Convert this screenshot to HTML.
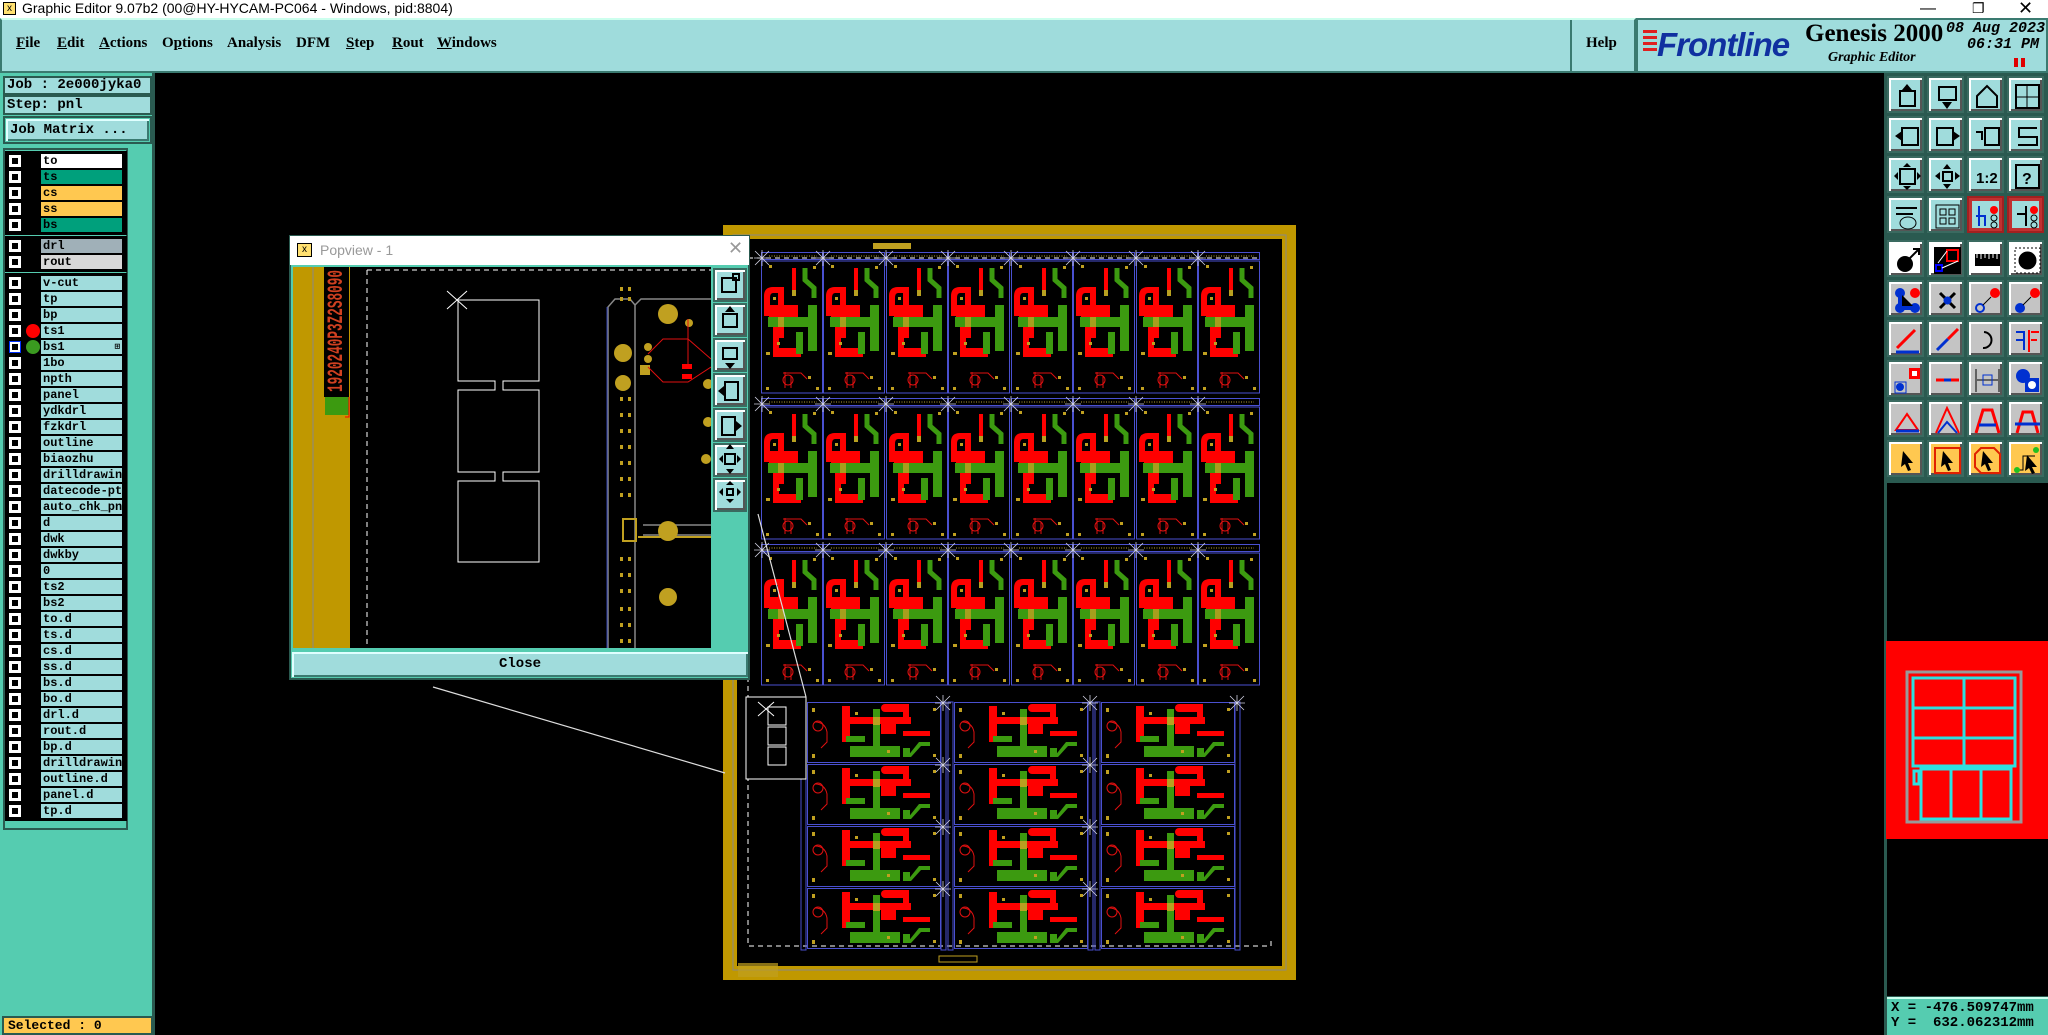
<!DOCTYPE html>
<html><head><meta charset="utf-8"><style>
*{margin:0;padding:0;box-sizing:border-box}
body{width:2048px;height:1035px;overflow:hidden;background:#000;position:relative;font-family:"Liberation Mono",monospace}
.a{position:absolute}
.menu span{position:absolute;top:15px;font:bold 15px "Liberation Serif",serif;color:#000}
.menu u{text-decoration:underline}
.lrow{position:absolute;left:5px;width:122px;height:16px;background:#000}
.lrow .cb{position:absolute;left:4px;top:2px;width:12px;height:12px;background:#fff;border:1px solid #fff}
.lrow .cb:after{content:"";position:absolute;left:2px;top:2px;width:6px;height:6px;background:#000}
.lrow .nm{position:absolute;left:36px;top:1px;width:81px;height:14px;background:#a0dcdc;font:bold 12px "Liberation Mono",monospace;line-height:14px;padding-left:2px;white-space:nowrap;overflow:hidden;color:#000}
.ic{position:absolute;width:37px;height:37px;border:2px solid #3a6a60;box-shadow:inset 2px 2px 0 #fff,inset -2px -2px 0 #555}
.tb{background:#a0dcdc}.gr{background:#c4c4c4}.or{background:#ffc850}
.ic svg{position:absolute;left:4px;top:4px}
</style></head><body>
<!-- title bar -->
<div class="a" style="left:0;top:0;width:2048px;height:18px;background:#fff;font:14px 'Liberation Sans',sans-serif;line-height:17px;padding-left:22px;color:#000">Graphic Editor 9.07b2 (00@HY-HYCAM-PC064 - Windows, pid:8804)</div>
<div class="a" style="left:3px;top:2px;width:13px;height:13px;border:1px solid #000;background:#ffe070;font:10px sans-serif;line-height:11px;text-align:center">x</div>
<div class="a" style="left:1920px;top:0;font:16px 'Liberation Sans',sans-serif;color:#000">—</div>
<div class="a" style="left:1972px;top:0;font:14px 'Liberation Sans',sans-serif;color:#000">❐</div>
<div class="a" style="left:2018px;top:-2px;font:18px 'Liberation Sans',sans-serif;color:#000">✕</div>
<!-- menu bar -->
<div class="a menu" style="left:0;top:18px;width:1636px;height:55px;background:#9fdcdc;border:2px solid #3a7a70;border-top-color:#cfe;">
<span style="left:14px"><u>F</u>ile</span><span style="left:55px"><u>E</u>dit</span><span style="left:97px"><u>A</u>ctions</span><span style="left:160px">O<u>p</u>tions</span><span style="left:225px">Analysis</span><span style="left:294px">DFM</span><span style="left:344px"><u>S</u>tep</span><span style="left:390px"><u>R</u>out</span><span style="left:435px"><u>W</u>indows</span><span style="left:1584px">Help</span></div>
<div class="a" style="left:1570px;top:20px;width:2px;height:51px;background:#3a7a70"></div>
<div class="a" style="left:1636px;top:18px;width:412px;height:55px;background:#9fdcdc;border:2px solid #3a7a70"></div>
<div class="a" style="left:1643px;top:30px;width:14px;height:3px;background:#e02020;box-shadow:0 6px 0 #e02020,0 12px 0 #e02020,0 18px 0 #e02020"></div>
<div class="a" style="left:1657px;top:26px;font:italic bold 33px 'Liberation Sans',sans-serif;color:#1030a0;letter-spacing:-1px">Frontline</div>
<div class="a" style="left:1805px;top:20px;font:bold 25px 'Liberation Serif',serif;color:#000">Genesis 2000</div>
<div class="a" style="left:1828px;top:50px;font:italic bold 14px 'Liberation Serif',serif;color:#000">Graphic Editor</div>
<div class="a" style="left:1946px;top:20px;font:italic bold 15px 'Liberation Mono',monospace;color:#000;white-space:pre">08 Aug 2023</div>
<div class="a" style="left:1958px;top:36px;font:italic bold 15px 'Liberation Mono',monospace;color:#000;white-space:pre"> 06:31 PM</div>
<div class="a" style="left:2014px;top:58px;width:4px;height:9px;background:#e00000;box-shadow:7px 0 0 #e00000"></div>
<!-- left panel -->
<div class="a" style="left:0;top:73px;width:155px;height:962px;background:#55ccb0;border-right:3px solid #2a5a50"></div>
<div class="a" style="left:3px;top:76px;width:149px;height:19px;background:#a0dcdc;border:2px solid #2a5a50;font:bold 14px 'Liberation Mono',monospace;line-height:15px;padding-left:2px">Job : 2e000jyka0</div>
<div class="a" style="left:3px;top:95px;width:149px;height:20px;background:#a0dcdc;border:2px solid #2a5a50;font:bold 14px 'Liberation Mono',monospace;line-height:16px;padding-left:2px">Step: pnl</div>
<div class="a" style="left:3px;top:116px;width:149px;height:28px;background:#55ccb0;border:2px solid #2a5a50"></div>
<div class="a" style="left:6px;top:119px;width:143px;height:22px;background:#a0dcdc;box-shadow:inset 2px 2px 0 #e0ffff,inset -2px -2px 0 #3a7a70;font:bold 14px 'Liberation Mono',monospace;line-height:22px;padding-left:4px">Job Matrix ...</div>
<div class="a" style="left:3px;top:148px;width:125px;height:682px;border:2px solid #2a5a50;background:#55ccb0"></div>
<div class="a" style="left:5px;top:151px;width:122px;height:84px;background:#000"></div>
<div class="a" style="left:5px;top:236px;width:122px;height:36px;background:#000"></div>
<div class="a" style="left:5px;top:273px;width:122px;height:548px;background:#000"></div>
<div class="lrow" style="top:153px"><div class="cb"></div><div class="nm" style="background:#fff">to</div></div>
<div class="lrow" style="top:169px"><div class="cb"></div><div class="nm" style="background:#00a07c">ts</div></div>
<div class="lrow" style="top:185px"><div class="cb"></div><div class="nm" style="background:#ffc850">cs</div></div>
<div class="lrow" style="top:201px"><div class="cb"></div><div class="nm" style="background:#ffc850">ss</div></div>
<div class="lrow" style="top:217px"><div class="cb"></div><div class="nm" style="background:#00a07c">bs</div></div>
<div class="lrow" style="top:238px"><div class="cb"></div><div class="nm" style="background:#a0b0b8">drl</div></div>
<div class="lrow" style="top:254px"><div class="cb"></div><div class="nm" style="background:#d8d8d8">rout</div></div>
<div class="lrow" style="top:275px"><div class="cb"></div><div class="nm">v-cut</div></div>
<div class="lrow" style="top:291px"><div class="cb"></div><div class="nm">tp</div></div>
<div class="lrow" style="top:307px"><div class="cb"></div><div class="nm">bp</div></div>
<div class="lrow" style="top:323px"><div class="cb"></div><div class="a" style="left:21px;top:1px;width:14px;height:14px;border-radius:50%;background:#f00"></div><div class="nm">ts1</div></div>
<div class="lrow" style="top:339px"><div class="cb" style="border-color:#0030ff"></div><div class="a" style="left:21px;top:1px;width:14px;height:14px;border-radius:50%;background:#3a9a20"></div><div class="nm">bs1<span style="float:right;font-size:9px;padding-right:2px">⊞</span></div></div>
<div class="lrow" style="top:355px"><div class="cb"></div><div class="nm">1bo</div></div>
<div class="lrow" style="top:371px"><div class="cb"></div><div class="nm">npth</div></div>
<div class="lrow" style="top:387px"><div class="cb"></div><div class="nm">panel</div></div>
<div class="lrow" style="top:403px"><div class="cb"></div><div class="nm">ydkdrl</div></div>
<div class="lrow" style="top:419px"><div class="cb"></div><div class="nm">fzkdrl</div></div>
<div class="lrow" style="top:435px"><div class="cb"></div><div class="nm">outline</div></div>
<div class="lrow" style="top:451px"><div class="cb"></div><div class="nm">biaozhu</div></div>
<div class="lrow" style="top:467px"><div class="cb"></div><div class="nm">drilldrawing</div></div>
<div class="lrow" style="top:483px"><div class="cb"></div><div class="nm">datecode-pt</div></div>
<div class="lrow" style="top:499px"><div class="cb"></div><div class="nm">auto_chk_pnl</div></div>
<div class="lrow" style="top:515px"><div class="cb"></div><div class="nm">d</div></div>
<div class="lrow" style="top:531px"><div class="cb"></div><div class="nm">dwk</div></div>
<div class="lrow" style="top:547px"><div class="cb"></div><div class="nm">dwkby</div></div>
<div class="lrow" style="top:563px"><div class="cb"></div><div class="nm">0</div></div>
<div class="lrow" style="top:579px"><div class="cb"></div><div class="nm">ts2</div></div>
<div class="lrow" style="top:595px"><div class="cb"></div><div class="nm">bs2</div></div>
<div class="lrow" style="top:611px"><div class="cb"></div><div class="nm">to.d</div></div>
<div class="lrow" style="top:627px"><div class="cb"></div><div class="nm">ts.d</div></div>
<div class="lrow" style="top:643px"><div class="cb"></div><div class="nm">cs.d</div></div>
<div class="lrow" style="top:659px"><div class="cb"></div><div class="nm">ss.d</div></div>
<div class="lrow" style="top:675px"><div class="cb"></div><div class="nm">bs.d</div></div>
<div class="lrow" style="top:691px"><div class="cb"></div><div class="nm">bo.d</div></div>
<div class="lrow" style="top:707px"><div class="cb"></div><div class="nm">drl.d</div></div>
<div class="lrow" style="top:723px"><div class="cb"></div><div class="nm">rout.d</div></div>
<div class="lrow" style="top:739px"><div class="cb"></div><div class="nm">bp.d</div></div>
<div class="lrow" style="top:755px"><div class="cb"></div><div class="nm">drilldrawing</div></div>
<div class="lrow" style="top:771px"><div class="cb"></div><div class="nm">outline.d</div></div>
<div class="lrow" style="top:787px"><div class="cb"></div><div class="nm">panel.d</div></div>
<div class="lrow" style="top:803px"><div class="cb"></div><div class="nm">tp.d</div></div>
<div class="a" style="left:2px;top:1016px;width:151px;height:19px;background:#ffc850;border:2px solid #2a5a50;font:bold 13px 'Liberation Mono',monospace;line-height:15px;padding-left:4px">Selected : 0</div>

<!-- right toolbar -->
<div class="a" style="left:1884px;top:73px;width:164px;height:962px;background:#2a5a50"></div>
<div class="a" style="left:1887px;top:483px;width:161px;height:513px;background:#000"></div>
<div class="a" style="left:1886px;top:641px;width:162px;height:198px;background:#f00"></div>
<svg class="a" style="left:1886px;top:641px" width="162" height="198">
<g fill="none" stroke="#999" stroke-width="3"><rect x="21" y="31" width="114" height="150"/></g>
<g fill="none" stroke="#2ee0e0" stroke-width="3"><rect x="27" y="37" width="102" height="88"/><line x1="78" y1="37" x2="78" y2="125"/><line x1="27" y1="67" x2="129" y2="67"/><line x1="27" y1="97" x2="129" y2="97"/><rect x="35" y="128" width="90" height="50"/><line x1="65" y1="128" x2="65" y2="178"/><line x1="95" y1="128" x2="95" y2="178"/><rect x="28" y="130" width="5" height="13"/></g></svg>
<div class="a" style="left:1887px;top:997px;width:161px;height:38px;background:#55ccb0;border-top:2px solid #cfe;font:bold 14px 'Liberation Mono',monospace;line-height:15px;padding:2px 0 0 4px;white-space:pre">X = -476.509747mm
Y =  632.062312mm</div>
<!-- icons -->
<div class="ic tb" style="left:1887px;top:76px"><svg width="29" height="29"><rect x="7" y="9" width="15" height="15" fill="none" stroke="#000" stroke-width="2"/><path d="M14 2 L9 8 H19Z" fill="#000"/></svg></div>
<div class="ic tb" style="left:1927px;top:76px"><svg width="29" height="29"><rect x="6" y="5" width="17" height="13" fill="none" stroke="#000" stroke-width="2"/><path d="M14 27 L9 20 H19Z" fill="#000"/></svg></div>
<div class="ic tb" style="left:1967px;top:76px"><svg width="29" height="29"><path d="M4 14 L14 4 L24 14 V25 H4Z" fill="none" stroke="#000" stroke-width="2"/></svg></div>
<div class="ic tb" style="left:2007px;top:76px"><svg width="29" height="29"><rect x="3" y="3" width="23" height="23" fill="none" stroke="#000" stroke-width="2"/><path d="M14 3V26M3 15H26" stroke="#000"/></svg></div>
<div class="ic tb" style="left:1887px;top:116px"><svg width="29" height="29"><rect x="9" y="6" width="16" height="17" fill="none" stroke="#000" stroke-width="2"/><path d="M2 14 L9 9 V19Z" fill="#000"/></svg></div>
<div class="ic tb" style="left:1927px;top:116px"><svg width="29" height="29"><rect x="4" y="6" width="16" height="17" fill="none" stroke="#000" stroke-width="2"/><path d="M27 14 L20 9 V19Z" fill="#000"/></svg></div>
<div class="ic tb" style="left:1967px;top:116px"><svg width="29" height="29"><rect x="12" y="6" width="14" height="17" fill="none" stroke="#000" stroke-width="2"/><path d="M3 10 H9 V18" fill="none" stroke="#000" stroke-width="2"/></svg></div>
<div class="ic tb" style="left:2007px;top:116px"><svg width="29" height="29"><path d="M24 6 H6 V15 H24 V23 H5" fill="none" stroke="#000" stroke-width="2"/></svg></div>
<div class="ic tb" style="left:1887px;top:156px"><svg width="29" height="29"><rect x="7" y="7" width="15" height="15" fill="none" stroke="#000" stroke-width="2"/><path d="M14 1 L10 5 H18Z M14 28 L10 24 H18Z M1 14 L5 10 V18Z M28 14 L24 10 V18Z" fill="#000"/></svg></div>
<div class="ic tb" style="left:1927px;top:156px"><svg width="29" height="29"><rect x="10" y="10" width="9" height="9" fill="none" stroke="#000" stroke-width="2"/><path d="M14 2 L10 7 H18Z M14 27 L10 22 H18Z M2 14 L7 10 V18Z M27 14 L22 10 V18Z" fill="#000"/></svg></div>
<div class="ic tb" style="left:1967px;top:156px"><svg width="29" height="29"><text x="3" y="21" font-family="Liberation Sans" font-weight="bold" font-size="15">1:2</text></svg></div>
<div class="ic tb" style="left:2007px;top:156px"><svg width="29" height="29"><rect x="3" y="3" width="23" height="23" fill="none" stroke="#000" stroke-width="2"/><text x="9" y="22" font-family="Liberation Sans" font-weight="bold" font-size="16">?</text></svg></div>
<div class="ic tb" style="left:1887px;top:196px"><svg width="29" height="29"><path d="M3 6H24M3 12H20" stroke="#000" stroke-width="2"/><ellipse cx="15" cy="21" rx="8" ry="6" fill="none" stroke="#000"/></svg></div>
<div class="ic tb" style="left:1927px;top:196px"><svg width="29" height="29"><rect x="3" y="3" width="23" height="23" fill="none" stroke="#000"/><rect x="7" y="7" width="6" height="6" fill="none" stroke="#000"/><rect x="16" y="7" width="6" height="6" fill="none" stroke="#000"/><rect x="7" y="16" width="6" height="6" fill="none" stroke="#000"/><rect x="16" y="16" width="6" height="6" fill="none" stroke="#000"/></svg></div>
<div class="ic tb" style="left:1967px;top:196px;border-color:#a02020;box-shadow:inset 0 0 0 3px #c03030"><svg width="29" height="29"><circle cx="21" cy="8" r="4" fill="#f00"/><circle cx="21" cy="16" r="3" fill="none" stroke="#000"/><circle cx="21" cy="23" r="3" fill="none" stroke="#000"/><path d="M6 4V24M3 14H12V24" stroke="#0030d0" stroke-width="2" fill="none"/></svg></div>
<div class="ic tb" style="left:2007px;top:196px;border-color:#a02020;box-shadow:inset 0 0 0 3px #c03030"><svg width="29" height="29"><circle cx="21" cy="8" r="4" fill="#f00"/><circle cx="21" cy="16" r="3" fill="none" stroke="#000"/><circle cx="21" cy="23" r="3" fill="none" stroke="#000"/><path d="M13 4V24M4 12H13" stroke="#000" stroke-width="2"/></svg></div>
<div class="ic" style="left:1887px;top:240px;background:#fff"><svg width="29" height="29"><circle cx="12" cy="18" r="8" fill="#000"/><path d="M16 13 L26 3 M20 3H26V9" stroke="#000" stroke-width="2" fill="none"/></svg></div>
<div class="ic" style="left:1927px;top:240px;background:#fff"><svg width="29" height="29"><rect x="1" y="1" width="27" height="27" fill="#000"/><rect x="14" y="4" width="11" height="11" fill="none" stroke="#f00" stroke-width="2"/><rect x="3" y="19" width="6" height="6" fill="none" stroke="#00f" stroke-width="2"/><path d="M5 17 L14 5 M9 22 L25 15" stroke="#fff"/></svg></div>
<div class="ic" style="left:1967px;top:240px;background:#fff"><svg width="29" height="29"><rect x="2" y="8" width="25" height="12" fill="#000"/><path d="M4 8V12M8 8V13M12 8V12M16 8V13M20 8V12M24 8V13" stroke="#fff"/></svg></div>
<div class="ic" style="left:2007px;top:240px;background:#fff"><svg width="29" height="29"><rect x="2" y="2" width="25" height="25" fill="none" stroke="#000" stroke-dasharray="2 2"/><circle cx="14.5" cy="14.5" r="9" fill="#000"/></svg></div>
<div class="ic gr" style="left:1887px;top:280px"><svg width="29" height="29"><circle cx="7" cy="7" r="5" fill="#0030d0"/><circle cx="22" cy="7" r="5" fill="#f00"/><circle cx="7" cy="22" r="5" fill="#0030d0"/><circle cx="22" cy="22" r="5" fill="#0030d0"/><path d="M7 7V22H22" stroke="#0030d0" stroke-width="4"/></svg></div>
<div class="ic gr" style="left:1927px;top:280px"><svg width="29" height="29"><path d="M7 7L22 22M22 7L7 22" stroke="#000" stroke-width="3"/><circle cx="14.5" cy="14.5" r="4" fill="#0030d0"/></svg></div>
<div class="ic gr" style="left:1967px;top:280px"><svg width="29" height="29"><circle cx="22" cy="7" r="5" fill="#f00"/><circle cx="7" cy="22" r="4" fill="none" stroke="#0030d0" stroke-width="2"/><path d="M10 19L18 11" stroke="#000"/></svg></div>
<div class="ic gr" style="left:2007px;top:280px"><svg width="29" height="29"><circle cx="22" cy="7" r="5" fill="#f00"/><circle cx="7" cy="22" r="5" fill="#0030d0"/><path d="M10 19L18 11" stroke="#000"/></svg></div>
<div class="ic gr" style="left:1887px;top:320px"><svg width="29" height="29"><path d="M4 22L22 4" stroke="#f00" stroke-width="3"/><path d="M3 26H26" stroke="#0030d0" stroke-width="3"/></svg></div>
<div class="ic gr" style="left:1927px;top:320px"><svg width="29" height="29"><path d="M4 24L15 13" stroke="#0030d0" stroke-width="3"/><path d="M15 13L25 3" stroke="#f00" stroke-width="3"/></svg></div>
<div class="ic gr" style="left:1967px;top:320px"><svg width="29" height="29"><path d="M11 6 A8 8 0 1 1 10 22" stroke="#000" stroke-width="2" fill="none"/></svg></div>
<div class="ic gr" style="left:2007px;top:320px"><svg width="29" height="29"><path d="M3 6H11V24M3 14H10" stroke="#0030d0" stroke-width="2" fill="none"/><path d="M16 4V26M18 6H26M18 14H24" stroke="#f00" stroke-width="2"/></svg></div>
<div class="ic gr" style="left:1887px;top:360px"><svg width="29" height="29"><rect x="16" y="2" width="11" height="11" fill="#f00"/><rect x="19" y="5" width="5" height="5" fill="#fff"/><rect x="2" y="16" width="11" height="11" fill="none" stroke="#0030d0"/><circle cx="7" cy="21" r="4" fill="#0030d0"/></svg></div>
<div class="ic gr" style="left:1927px;top:360px"><svg width="29" height="29"><path d="M3 14H26" stroke="#f00" stroke-width="3"/><path d="M11 14H18" stroke="#0030d0" stroke-width="3"/></svg></div>
<div class="ic gr" style="left:1967px;top:360px"><svg width="29" height="29"><path d="M3 3V26M26 3V26M4 14H25" stroke="#000"/><rect x="10" y="9" width="9" height="10" fill="none" stroke="#0030d0"/></svg></div>
<div class="ic gr" style="left:2007px;top:360px"><svg width="29" height="29"><circle cx="10" cy="10" r="7" fill="#0030d0"/><rect x="12" y="12" width="14" height="14" fill="#0030d0"/><circle cx="19" cy="19" r="4" fill="#fff"/></svg></div>
<div class="ic gr" style="left:1887px;top:400px"><svg width="29" height="29"><path d="M3 24L14 8L25 24Z" fill="none" stroke="#f00" stroke-width="2"/><path d="M3 25H26" stroke="#0030d0" stroke-width="3"/></svg></div>
<div class="ic gr" style="left:1927px;top:400px"><svg width="29" height="29"><path d="M3 27L14 2L26 27" fill="none" stroke="#f00" stroke-width="2"/><path d="M5 27L14 16L24 27" fill="none" stroke="#0030d0" stroke-width="2"/></svg></div>
<div class="ic gr" style="left:1967px;top:400px"><svg width="29" height="29"><path d="M3 27L10 4H19L26 27" fill="none" stroke="#f00" stroke-width="3"/><path d="M6 19H23" stroke="#0030d0" stroke-width="3"/></svg></div>
<div class="ic gr" style="left:2007px;top:400px"><svg width="29" height="29"><path d="M4 27L10 6H19L25 27" fill="none" stroke="#f00" stroke-width="3"/><path d="M2 18H27" stroke="#0030d0" stroke-width="3"/></svg></div>
<div class="ic or" style="left:1887px;top:440px"><svg width="29" height="29"><path d="M10 5L20 17H15L18 24L15 25L12 18L8 21Z" fill="#000"/></svg></div>
<div class="ic or" style="left:1927px;top:440px"><svg width="29" height="29"><rect x="2" y="2" width="25" height="25" fill="none" stroke="#e02000" stroke-width="2"/><path d="M10 5L20 17H15L18 24L15 25L12 18L8 21Z" fill="#000"/></svg></div>
<div class="ic or" style="left:1967px;top:440px"><svg width="29" height="29"><path d="M8 2H21L27 8V27H8L2 21V8Z" fill="none" stroke="#e02000" stroke-width="2"/><path d="M10 5L20 17H15L18 24L15 25L12 18L8 21Z" fill="#000"/></svg></div>
<div class="ic or" style="left:2007px;top:440px"><svg width="29" height="29"><path d="M4 24H10V10H22" fill="none" stroke="#000"/><circle cx="4" cy="24" r="3" fill="#20c020"/><circle cx="23" cy="4" r="3" fill="#20c020"/><path d="M14 9L24 21H19L22 27L19 28L16 22L12 25Z" fill="#000"/></svg></div>

<!-- canvas graphics -->
<svg class="a" style="left:0;top:0" width="1884" height="1035">
<defs>
<g id="tb">
 <rect x="0.5" y="0.5" width="61" height="7" fill="none" stroke="#4a50d0"/>
 <line x1="8" y1="4" x2="56" y2="4" stroke="#b8a030" stroke-dasharray="1 1.5"/>
 <rect x="0.5" y="9" width="61" height="132" fill="none" stroke="#4a50d0"/>
 <g fill="#f00">
  <rect x="31" y="16" width="4" height="28"/>
  <path d="M3 44 Q3 35 12 35 H23 V86 H17 V41 H12 Q9 41 9 46 V64 H3Z"/>
  <rect x="8" y="53" width="29" height="12"/>
  <rect x="12" y="75" width="6" height="22"/>
  <rect x="12" y="96" width="28" height="9"/>
 </g>
 <g fill="#3c9a10">
  <rect x="47" y="53" width="9" height="46"/><rect x="7" y="65" width="48" height="10"/><rect x="35" y="80" width="7" height="22"/>
 </g>
 <path d="M44 16 V28 L53 36 V46" stroke="#3c9a10" stroke-width="5" fill="none"/>
 <rect x="17" y="65" width="6" height="10" fill="#b8a020" opacity="0.85"/>
 <rect x="31" y="38" width="4" height="6" fill="#b8a020"/>
 <g fill="none" stroke="#e01010"><circle cx="27" cy="128" r="5"/><path d="M22 121 H40 L46 127"/><path d="M24 120 V136 M30 124 V136"/></g>
 <g fill="#c0a020"><rect x="5" y="135" width="3" height="3"/><rect x="55" y="135" width="3" height="3"/><rect x="16" y="90" width="3" height="3"/><rect x="52" y="14" width="3" height="3"/><rect x="8" y="13" width="3" height="3"/><rect x="5" y="100" width="4" height="3"/><rect x="12" y="45" width="3" height="3"/><rect x="47" y="124" width="3" height="3"/></g>
</g>
<g id="bb">
 <rect x="0.5" y="0.5" width="133" height="60" fill="none" stroke="#4a50d0"/>
 <g fill="#f00"><rect x="35" y="4" width="8" height="36"/><rect x="43" y="15" width="61" height="7"/><rect x="74" y="2" width="26" height="8" rx="4"/><rect x="96" y="2" width="6" height="18"/><rect x="74" y="17" width="15" height="15"/><rect x="96" y="29" width="27" height="5"/></g>
 <g fill="#3c9a10"><rect x="66" y="7" width="7" height="42"/><rect x="43" y="44" width="50" height="11"/><rect x="39" y="34" width="19" height="6"/><path d="M96 55 L100 55 L112 40 L123 40 L123 44 L114 44 L104 55 Z"/><rect x="96" y="46" width="7" height="9"/></g>
 <rect x="66" y="15" width="7" height="8" fill="#b8a020"/>
 <g fill="none" stroke="#e01010"><circle cx="11" cy="24" r="5"/><path d="M8 20 Q18 20 20 30 V40 L14 46"/></g>
 <g fill="#c0a020"><rect x="5" y="6" width="3" height="4"/><rect x="5" y="52" width="3" height="4"/><rect x="126" y="6" width="3" height="3"/><rect x="126" y="52" width="3" height="3"/><rect x="48" y="10" width="3" height="3"/><rect x="80" y="48" width="3" height="3"/></g>
</g>
<g id="xm"><path d="M-7 -7 L7 7 M-7 7 L7 -7 M0 -8 V8 M-8 0 H8" stroke="#d0d0e0" stroke-width="0.8"/></g>
</defs>
<!-- board frame -->
<rect x="723" y="225" width="573" height="755" fill="#c09800"/>
<rect x="737" y="239" width="545" height="727" fill="#000"/>
<rect x="733" y="235" width="553" height="735" fill="none" stroke="#888" stroke-width="1"/>
<rect x="748" y="258" width="523" height="688" fill="none" stroke="#fff" stroke-dasharray="5 4"/>
<rect x="1258" y="250" width="18" height="690" fill="#000"/>
<rect x="772" y="947" width="490" height="8" fill="#000"/>
<rect x="939" y="956" width="38" height="6" fill="none" stroke="#c0a020"/>
<rect x="873" y="243" width="38" height="6" fill="#c0a020"/>
<rect x="738" y="963" width="40" height="14" fill="#c0a020" opacity="0.7"/>
<!-- top boards -->
<g id="row1">
<use href="#tb" x="761" y="252"/><use href="#tb" x="823" y="252"/><use href="#tb" x="886" y="252"/><use href="#tb" x="948" y="252"/><use href="#tb" x="1011" y="252"/><use href="#tb" x="1073" y="252"/><use href="#tb" x="1136" y="252"/><use href="#tb" x="1198" y="252"/>
</g>
<use href="#row1" y="146"/><use href="#row1" y="292"/>
<g>
<use href="#xm" x="762" y="258"/><use href="#xm" x="823" y="258"/><use href="#xm" x="886" y="258"/><use href="#xm" x="948" y="258"/><use href="#xm" x="1011" y="258"/><use href="#xm" x="1073" y="258"/><use href="#xm" x="1136" y="258"/><use href="#xm" x="1198" y="258"/>
<use href="#xm" x="762" y="404"/><use href="#xm" x="823" y="404"/><use href="#xm" x="886" y="404"/><use href="#xm" x="948" y="404"/><use href="#xm" x="1011" y="404"/><use href="#xm" x="1073" y="404"/><use href="#xm" x="1136" y="404"/><use href="#xm" x="1198" y="404"/>
<use href="#xm" x="762" y="550"/><use href="#xm" x="823" y="550"/><use href="#xm" x="886" y="550"/><use href="#xm" x="948" y="550"/><use href="#xm" x="1011" y="550"/><use href="#xm" x="1073" y="550"/><use href="#xm" x="1136" y="550"/><use href="#xm" x="1198" y="550"/>
</g>
<!-- bottom boards -->
<g id="col1"><use href="#bb" x="807" y="702"/><use href="#bb" x="807" y="764"/><use href="#bb" x="807" y="826"/><use href="#bb" x="807" y="888"/></g>
<use href="#col1" x="147"/><use href="#col1" x="294"/>
<g fill="none" stroke="#4a50d0"><rect x="801" y="702" width="5" height="248"/><rect x="941" y="702" width="5" height="248"/><rect x="948" y="702" width="5" height="248"/><rect x="1088" y="702" width="5" height="248"/><rect x="1095" y="702" width="5" height="248"/><rect x="1235" y="702" width="5" height="248"/></g>
<use href="#xm" x="943" y="703"/><use href="#xm" x="1090" y="703"/><use href="#xm" x="1237" y="703"/>
<use href="#xm" x="943" y="765"/><use href="#xm" x="1090" y="765"/><use href="#xm" x="943" y="827"/><use href="#xm" x="1090" y="827"/><use href="#xm" x="943" y="889"/><use href="#xm" x="1090" y="889"/>
<!-- small box left of bottom -->
<rect x="746" y="697" width="60" height="82" fill="#000" stroke="#fff"/>
<g fill="none" stroke="#fff"><rect x="768" y="707" width="18" height="18"/><rect x="768" y="727" width="18" height="18"/><rect x="768" y="747" width="18" height="18"/><path d="M758 702L774 716M758 716L774 702"/></g>
<!-- connector lines -->
<line x1="433" y1="687" x2="725" y2="773" stroke="#ddd" stroke-width="1.2"/>
<line x1="758" y1="514" x2="806" y2="697" stroke="#ddd" stroke-width="1.2"/>
</svg>

<!-- popview -->
<div class="a" style="left:289px;top:235px;width:461px;height:445px;background:#55ccb0;border:2px solid #2a5a50"></div>
<div class="a" style="left:290px;top:236px;width:459px;height:29px;background:#fff;font:14px 'Liberation Sans',sans-serif;color:#999;line-height:29px;padding-left:30px">Popview - 1</div>
<div class="a" style="left:297px;top:243px;width:15px;height:14px;border:1px solid #000;background:#ffe070;font:10px sans-serif;line-height:12px;text-align:center">x</div>
<div class="a" style="left:728px;top:238px;font:18px 'Liberation Sans',sans-serif;color:#999">✕</div>
<svg class="a" style="left:293px;top:267px" width="418" height="381">
<rect width="418" height="381" fill="#000"/>
<rect x="0" y="0" width="57" height="381" fill="#c09800"/>
<line x1="20" y1="0" x2="20" y2="381" stroke="#888"/>
<rect x="31" y="0" width="25" height="130" fill="#000"/>
<text x="0" y="0" transform="translate(49,125) rotate(-90)" font-family="Liberation Mono" font-weight="bold" font-size="22" fill="#d04020" textLength="122" lengthAdjust="spacingAndGlyphs">1920240P3Z2S8090</text>
<rect x="32" y="130" width="24" height="18" fill="#3c9a10"/>
<path d="M56 130 V150 H52" stroke="#f00" fill="none"/>
<path d="M74 3 V381 M74 3 H418" stroke="#fff" stroke-dasharray="5 4"/>
<g fill="none" stroke="#fff"><path d="M165 33 H246 V114 H210 V123 H246 V205 H210 V214 H246 V295 H165 V214 H202 V205 H165 V123 H202 V114 H165Z"/><path d="M154 24 L174 42 M154 42 L174 24"/></g>
<g fill="none" stroke="#888" stroke-width="1.5"><path d="M315 381 V40 L322 32 H337 L342 38 V381"/><path d="M342 38 L348 32 H418"/><path d="M350 258 H418 M350 268 H418"/></g>
<line x1="314" y1="40" x2="314" y2="381" stroke="#3040b0"/>
<rect x="330" y="252" width="13" height="22" fill="none" stroke="#c0a020" stroke-width="2"/>
<line x1="345" y1="270" x2="418" y2="270" stroke="#c0a020" stroke-width="2"/>
<g fill="#c0a020">
<circle cx="375" cy="47" r="10"/><circle cx="330" cy="86" r="9"/><circle cx="330" cy="116" r="8"/><circle cx="375" cy="264" r="10"/><circle cx="375" cy="330" r="9"/><circle cx="415" cy="117" r="5"/><circle cx="415" cy="155" r="5"/><circle cx="413" cy="192" r="5"/>
<circle cx="396" cy="56" r="4"/><circle cx="355" cy="80" r="4"/><circle cx="355" cy="92" r="4"/><rect x="347" y="98" width="10" height="10"/>
</g>
<g fill="#c0a020">
<rect x="327" y="20" width="3" height="4"/><rect x="335" y="20" width="3" height="4"/><rect x="327" y="30" width="3" height="4"/><rect x="335" y="30" width="3" height="4"/>
<rect x="327" y="130" width="3" height="4"/><rect x="335" y="130" width="3" height="4"/><rect x="327" y="146" width="3" height="4"/><rect x="335" y="146" width="3" height="4"/><rect x="327" y="162" width="3" height="4"/><rect x="335" y="162" width="3" height="4"/><rect x="327" y="178" width="3" height="4"/><rect x="335" y="178" width="3" height="4"/><rect x="327" y="194" width="3" height="4"/><rect x="335" y="194" width="3" height="4"/><rect x="327" y="210" width="3" height="4"/><rect x="335" y="210" width="3" height="4"/><rect x="327" y="226" width="3" height="4"/><rect x="335" y="226" width="3" height="4"/><rect x="327" y="290" width="3" height="4"/><rect x="335" y="290" width="3" height="4"/><rect x="327" y="306" width="3" height="4"/><rect x="335" y="306" width="3" height="4"/><rect x="327" y="322" width="3" height="4"/><rect x="335" y="322" width="3" height="4"/><rect x="327" y="340" width="3" height="4"/><rect x="335" y="340" width="3" height="4"/><rect x="327" y="356" width="3" height="4"/><rect x="335" y="356" width="3" height="4"/><rect x="327" y="372" width="3" height="4"/><rect x="335" y="372" width="3" height="4"/>
</g>
<g fill="none" stroke="#e01010"><path d="M355 87 L370 72 H395 L418 92 M355 100 L370 115 H395 L418 100"/><line x1="395" y1="52" x2="395" y2="100"/></g>
<rect x="389" y="97" width="10" height="5" fill="#f00"/><rect x="389" y="107" width="10" height="5" fill="#f00"/>
</svg>
<div class="a" style="left:712px;top:267px;width:36px;height:381px;background:#55ccb0"></div>
<div class="ic tb" style="left:713px;top:268px;width:34px;height:34px"></div>
<div class="ic tb" style="left:713px;top:303px;width:34px;height:34px"></div>
<div class="ic tb" style="left:713px;top:338px;width:34px;height:34px"></div>
<div class="ic tb" style="left:713px;top:373px;width:34px;height:34px"></div>
<div class="ic tb" style="left:713px;top:408px;width:34px;height:34px"></div>
<div class="ic tb" style="left:713px;top:443px;width:34px;height:34px"></div>
<div class="ic tb" style="left:713px;top:478px;width:34px;height:34px"></div>
<svg class="a" style="left:713px;top:268px" width="34" height="244">
<g fill="none" stroke="#000" stroke-width="2">
<rect x="9" y="10" width="14" height="14"/><rect x="20" y="6" width="6" height="6"/>
<rect x="10" y="46" width="14" height="13"/><rect x="10" y="80" width="14" height="11"/>
<rect x="12" y="114" width="13" height="18"/><rect x="9" y="149" width="13" height="18"/>
<rect x="12" y="186" width="10" height="10"/><rect x="14" y="221" width="6" height="6"/></g>
<g fill="#000"><path d="M17 38 L12 44 H22Z M17 101 L12 95 H22Z M5 123 L11 118 V128Z M29 158 L23 153 V163Z M17 176 L13 181 H21Z M17 206 L13 201 H21Z M6 191 L10 187 V195Z M28 191 L24 187 V195Z M17 213 L13 217 H21Z M17 235 L13 231 H21Z M6 224 L10 220 V228Z M28 224 L24 220 V228Z"/></g>
</svg>
<div class="a" style="left:292px;top:652px;width:456px;height:25px;background:#a0dcdc;box-shadow:inset 2px 2px 0 #e0ffff,inset -2px -2px 0 #3a7a70;font:bold 14px 'Liberation Mono',monospace;line-height:25px;text-align:center">Close</div>
</body></html>
